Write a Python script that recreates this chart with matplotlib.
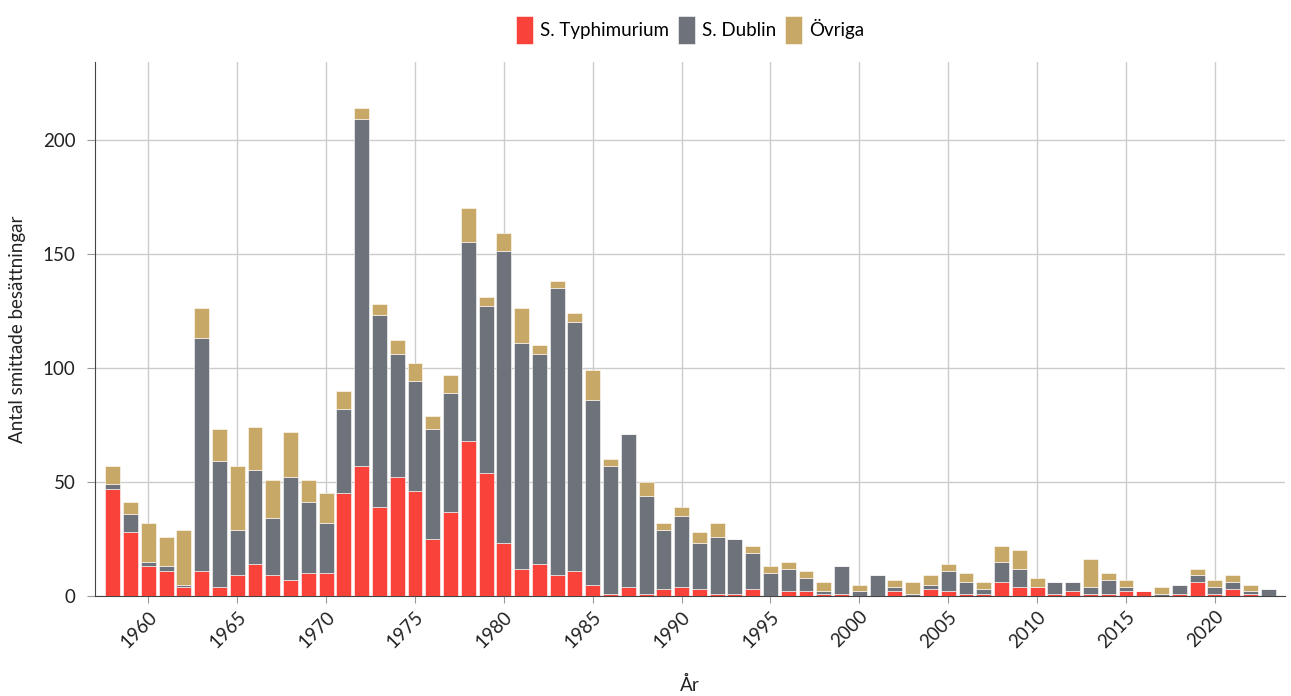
import numpy as np
import matplotlib as mpl
mpl.use('Agg')
import matplotlib.pyplot as plt

plt.rcParams['font.family'] = ['Lato', 'DejaVu Sans']

ar = list(range(1958, 2024))

typhimurium = [47, 28, 13, 11, 4, 11, 4, 9, 14, 9, 7, 10, 10, 45, 57, 39, 52, 46, 25, 37,
               68, 54, 23, 12, 14, 9, 11, 5, 1, 4, 1, 3, 4, 3, 1, 1, 3, 0, 2, 2,
               1, 1, 0, 0, 2, 0, 3, 2, 1, 1, 6, 4, 4, 1, 2, 1, 1, 2, 2, 0,
               1, 6, 1, 3, 1, 0]
dublin = [2, 8, 2, 2, 1, 102, 55, 20, 41, 25, 45, 31, 22, 37, 152, 84, 54, 48, 48, 52,
          87, 73, 128, 99, 92, 126, 109, 81, 56, 67, 43, 26, 31, 20, 25, 24, 16, 10, 10, 6,
          1, 12, 2, 9, 2, 1, 2, 9, 5, 2, 9, 8, 0, 5, 4, 3, 6, 2, 0, 1,
          4, 3, 3, 3, 1, 3]
ovriga = [8, 5, 17, 13, 24, 13, 14, 28, 19, 17, 20, 10, 13, 8, 5, 5, 6, 8, 6, 8,
          15, 4, 8, 15, 4, 3, 4, 13, 3, 0, 6, 3, 4, 5, 6, 0, 3, 3, 3, 3,
          4, 0, 3, 0, 3, 5, 4, 3, 4, 3, 7, 8, 4, 0, 0, 12, 3, 3, 0, 3,
          0, 3, 3, 3, 3, 0]

farg_t = '#f9423a'
farg_d = '#6e727b'
farg_o = '#c8a866'

x = np.array(ar)
t = np.array(typhimurium)
d = np.array(dublin)
o = np.array(ovriga)

fig = plt.figure(figsize=(12.91, 6.96), dpi=100)
ax = fig.add_axes([0.0736, 0.1437, 0.9218, 0.7673])

kw = dict(width=0.84, edgecolor='white', linewidth=0.4, zorder=3)
ax.bar(x, t, color=farg_t, label='S. Typhimurium', **kw)
ax.bar(x, d, bottom=t, color=farg_d, label='S. Dublin', **kw)
ax.bar(x, o, bottom=t + d, color=farg_o, label='Övriga', **kw)

ax.set_xlim(1957.0, 2023.95)
ax.set_ylim(0, 234)
ax.set_yticks([0, 50, 100, 150, 200])
ax.set_xticks(range(1960, 2021, 5))
ax.grid(True, color='#cccccc', linewidth=1, zorder=0)

for s in ['top', 'right']:
    ax.spines[s].set_visible(False)
ax.spines['left'].set_color('#444444')
ax.spines['bottom'].set_color('#444444')

fs = 13.5
ax.tick_params(axis='y', length=6, color='#999999', labelsize=fs, labelcolor='#222222', pad=8)
ax.tick_params(axis='x', length=5, color='#999999', labelsize=fs, labelcolor='#222222')
plt.setp(ax.get_xticklabels(), rotation=45, ha='right', rotation_mode='anchor')

ax.set_ylabel('Antal smittade besättningar', fontsize=fs, color='#222222', labelpad=12)
ax.set_xlabel('År', fontsize=fs, color='#222222', labelpad=18)

ax.legend(loc='center', bbox_to_anchor=(0.5, 1.06), ncol=3, frameon=False,
          fontsize=fs, handlelength=0.9, handleheight=1.9, handletextpad=0.35,
          columnspacing=0.5)

fig.savefig('out.png', dpi=100)
